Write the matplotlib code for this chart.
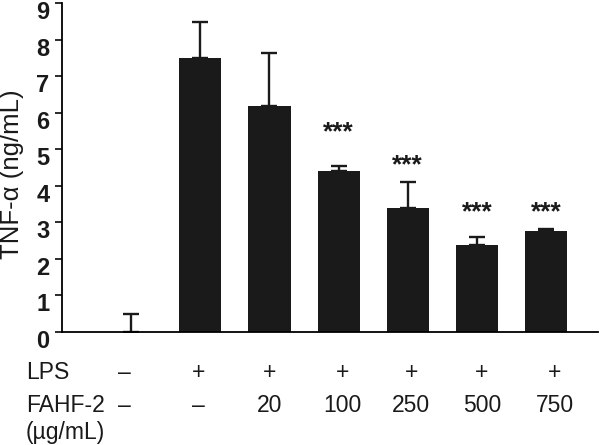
import matplotlib.pyplot as plt
import matplotlib.transforms as mtransforms
import numpy as np

plt.rcParams['font.family'] = ['Liberation Sans', 'DejaVu Sans']

# data
groups = ['ctrl', 'LPS', '20', '100', '250', '500', '750']
tnf = [0.0, 7.49, 6.19, 4.39, 3.38, 2.37, 2.76]
sem = [0.48, 1.00, 1.43, 0.14, 0.73, 0.22, 0.07]
signif = ['', '', '', '***', '***', '***', '***']
star_level = [0, 0, 0, 5.45, 4.57, 3.26, 3.26]
lps_row = ['\u2013', '+', '+', '+', '+', '+', '+']
fahf_row = ['\u2013', '\u2013', '20', '100', '250', '500', '750']

fig = plt.figure(figsize=(6, 4.45), dpi=100)
ax = fig.add_axes([0.1033, 0.254, 0.8934, 0.7393])

x = np.arange(len(groups))
ax.bar(x, tnf, width=0.61, color='#1a1a1a', zorder=2)
ax.errorbar(x, tnf, yerr=[np.zeros(len(sem)), sem], fmt='none',
            ecolor='#1a1a1a', elinewidth=1.7, capsize=6, capthick=1.7, zorder=1)

for xi, s, lv in zip(x, signif, star_level):
    if s:
        ax.text(xi, lv, s, ha='center', va='center',
                fontsize=19, fontweight='bold', color='#1a1a1a')

ax.set_xlim(-1.0, 6.75)
ax.set_ylim(0, 9)
ax.set_yticks(range(10))
ax.tick_params(axis='y', direction='out', length=5, width=1.3, pad=4,
               labelsize=17, colors='#1a1a1a')
for lab in ax.get_yticklabels():
    lab.set_fontweight('bold')
    lab.set_transform(lab.get_transform() +
                      mtransforms.ScaledTranslation(0, -7 / 100, fig.dpi_scale_trans))
ax.set_xticks([])
for side in ['top', 'right']:
    ax.spines[side].set_visible(False)
ax.spines['left'].set_linewidth(1.3)
ax.spines['bottom'].set_linewidth(1.3)

fig.text(0.02, 0.609, 'TNF-\u03b1 (ng/mL)', rotation=90, ha='center', va='center',
         fontsize=18.5, color='#1a1a1a')

# treatment table under the axis
col_shift = [-0.09, -0.03, 0.0, 0.06, 0.05, 0.07, 0.12]
trans = mtransforms.blended_transform_factory(ax.transData, fig.transFigure)
for xi, d, a, b in zip(x, col_shift, lps_row, fahf_row):
    ax.text(xi + d, 0.162, a, transform=trans, ha='center', va='center',
            fontsize=16.5, color='#1a1a1a', clip_on=False)
    ax.text(xi + d, 0.088, b, transform=trans, ha='center', va='center',
            fontsize=16.5, color='#1a1a1a', clip_on=False)

fig.text(0.043, 0.162, 'LPS', ha='left', va='center', fontsize=16.5, color='#1a1a1a')
fig.text(0.043, 0.088, 'FAHF-2', ha='left', va='center', fontsize=16.5, color='#1a1a1a')
fig.text(0.043, 0.027, '(\u00b5g/mL)', ha='left', va='center', fontsize=16.5, color='#1a1a1a')

plt.savefig('out.png', dpi=100)
